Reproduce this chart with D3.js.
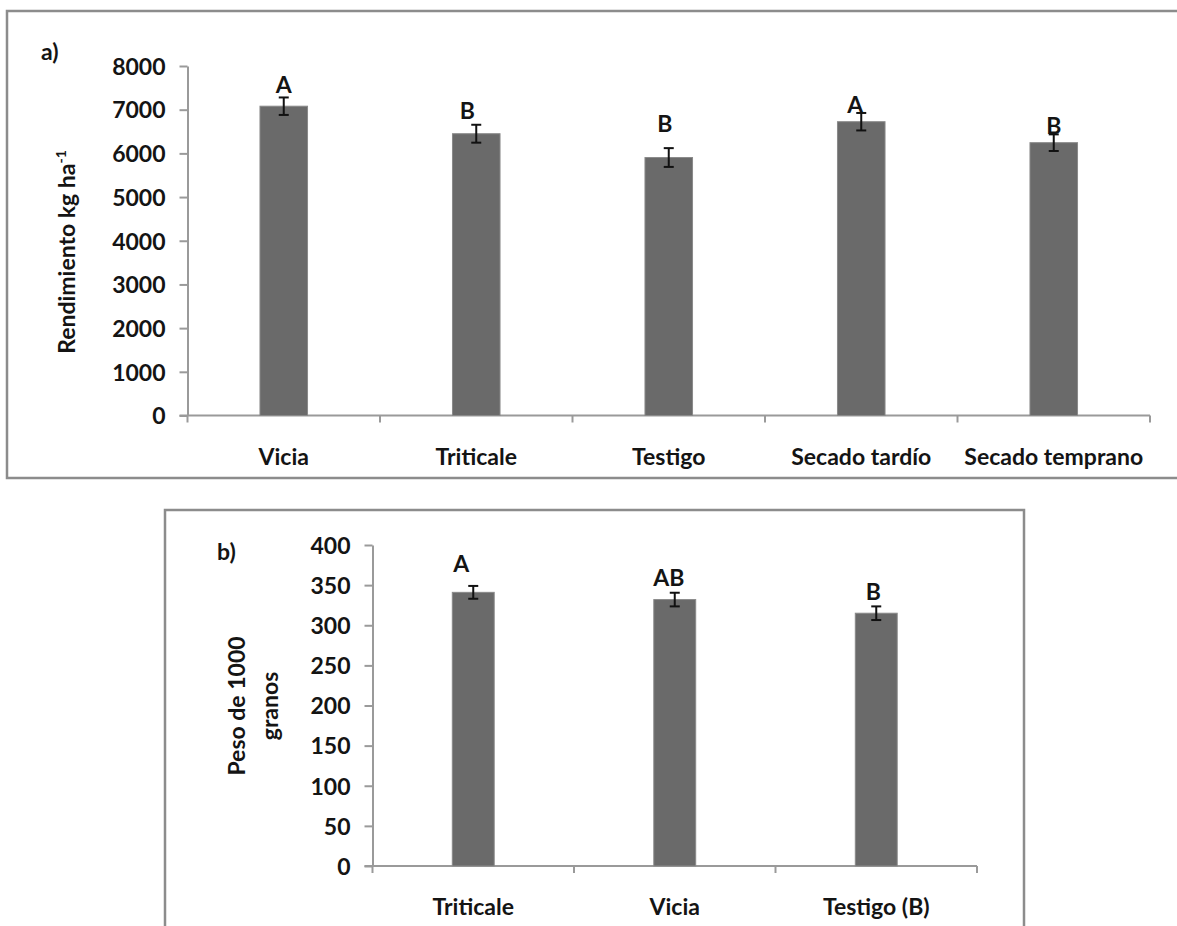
<!DOCTYPE html>
<html>
<head>
<meta charset="utf-8">
<script src="https://cdn.jsdelivr.net/npm/d3@7"></script>
<style>
  html, body { margin: 0; padding: 0; background: #fff; }
  svg { display: block; }
  text { font-family: Lato, "Open Sans", sans-serif; font-weight: 700; fill: #141414; }
</style>
</head>
<body>
<svg id="fig" width="1177" height="926"></svg>
<script>
// Panel a: grain yield by treatment
const treatmentsA = ["Vicia", "Triticale", "Testigo", "Secado tardío", "Secado temprano"];
const yieldA = [7080, 6450, 5905, 6725, 6245];
const yieldErrA = [200, 205, 215, 200, 190];
const lettersA = ["A", "B", "B", "A", "B"];
const yTicksA = [0, 1000, 2000, 3000, 4000, 5000, 6000, 7000, 8000];

// Panel b: thousand-grain weight by treatment
const treatmentsB = ["Triticale", "Vicia", "Testigo (B)"];
const weightB = [341, 332, 315];
const weightErrB = [8, 8.5, 8.5];
const lettersB = ["A", "AB", "B"];
const yTicksB = [0, 50, 100, 150, 200, 250, 300, 350, 400];

const svg = d3.select("#fig");
const AXIS = "#9a9a9a";
const BAR = "#6a6a6a";
const FS = 23;

function panel(cfg) {
  const g = svg.append("g");

  // frame
  g.append("path")
    .attr("d", cfg.frame)
    .attr("fill", "none")
    .attr("stroke", "#8c8c8c")
    .attr("stroke-width", 2.5);

  const x = d3.scaleBand().domain(cfg.cats).range(cfg.xRange).padding(0);
  const y = d3.scaleLinear().domain(cfg.yDomain).range(cfg.yRange);

  // value axis
  const yAxis = g.append("g")
    .attr("transform", `translate(${cfg.xRange[0]},0)`)
    .call(d3.axisLeft(y).tickValues(cfg.ticks).tickFormat(d3.format("d"))
      .tickSize(8).tickSizeOuter(0).tickPadding(14));
  yAxis.select(".domain").attr("stroke", AXIS).attr("stroke-width", 2);
  yAxis.selectAll(".tick line").attr("stroke", AXIS).attr("stroke-width", 2);
  yAxis.selectAll(".tick text")
    .attr("font-size", FS).attr("font-family", "Lato").attr("font-weight", 700)
    .attr("fill", "#141414").attr("dy", "0.36em");

  // category axis: baseline, boundary ticks, labels
  const y0 = y(0);
  g.append("line")
    .attr("x1", cfg.xRange[0] - 8).attr("x2", cfg.xRange[1])
    .attr("y1", y0).attr("y2", y0)
    .attr("stroke", AXIS).attr("stroke-width", 2);
  const bounds = cfg.cats.map(c => x(c)).concat([cfg.xRange[1]]);
  g.selectAll("line.btick").data(bounds).join("line")
    .attr("class", "btick")
    .attr("x1", d => d).attr("x2", d => d)
    .attr("y1", y0).attr("y2", y0 + 7)
    .attr("stroke", AXIS).attr("stroke-width", 2);
  g.selectAll("text.cat").data(cfg.cats).join("text")
    .attr("class", "cat")
    .attr("x", d => x(d) + x.bandwidth() / 2)
    .attr("y", cfg.labelY)
    .attr("text-anchor", "middle")
    .attr("font-size", FS)
    .text(d => d);

  // bars
  const bw = x.bandwidth() * cfg.barFrac;
  const cx = (c) => x(c) + x.bandwidth() / 2;
  g.selectAll("rect.bar").data(cfg.cats).join("rect")
    .attr("class", "bar")
    .attr("x", d => cx(d) - bw / 2)
    .attr("width", bw)
    .attr("y", (d, i) => y(cfg.values[i]))
    .attr("height", (d, i) => y0 - y(cfg.values[i]))
    .attr("fill", BAR)
    .attr("stroke", "#8a8a8a")
    .attr("stroke-width", 1);

  // error bars
  const eb = g.selectAll("g.err").data(cfg.cats).join("g").attr("class", "err");
  eb.append("line")
    .attr("x1", d => cx(d)).attr("x2", d => cx(d))
    .attr("y1", (d, i) => y(cfg.values[i] + cfg.errs[i]))
    .attr("y2", (d, i) => y(cfg.values[i] - cfg.errs[i]));
  eb.append("line")
    .attr("x1", d => cx(d) - 5).attr("x2", d => cx(d) + 5)
    .attr("y1", (d, i) => y(cfg.values[i] + cfg.errs[i]))
    .attr("y2", (d, i) => y(cfg.values[i] + cfg.errs[i]));
  eb.append("line")
    .attr("x1", d => cx(d) - 5).attr("x2", d => cx(d) + 5)
    .attr("y1", (d, i) => y(cfg.values[i] - cfg.errs[i]))
    .attr("y2", (d, i) => y(cfg.values[i] - cfg.errs[i]));
  eb.selectAll("line").attr("stroke", "#111").attr("stroke-width", 2);

  // significance letters above each error bar
  g.selectAll("text.sig").data(cfg.cats).join("text")
    .attr("class", "sig")
    .attr("x", (d, i) => cx(d) + cfg.letterDx[i])
    .attr("y", (d, i) => y(cfg.values[i] + cfg.errs[i]) - cfg.letterLift[i] + 8)
    .attr("text-anchor", "middle")
    .attr("font-size", FS)
    .text((d, i) => cfg.letters[i]);

  // panel tag
  g.append("text")
    .attr("x", cfg.tag[0]).attr("y", cfg.tag[1])
    .attr("font-size", FS)
    .text(cfg.tagText);

  return g;
}

// ---- panel a ----
const ga = panel({
  frame: "M1177,11 H7 V478 H1177",
  cats: treatmentsA, values: yieldA, errs: yieldErrA, letters: lettersA,
  ticks: yTicksA, yDomain: [0, 8000], yRange: [415.5, 66],
  xRange: [187.5, 1150], barFrac: 0.247, labelY: 465,
  letterDx: [0, -9, -4, -6, 0], letterLift: [12, 14, 24, 8, 8],
  tag: [41, 60], tagText: "a)"
});
const titleA = ga.append("text")
  .attr("transform", "translate(75,252) rotate(-90)")
  .attr("text-anchor", "middle")
  .attr("font-size", FS);
titleA.append("tspan").text("Rendimiento kg ha");
titleA.append("tspan").attr("font-size", 14).attr("dy", -9).text("-1");

// ---- panel b ----
const gb = panel({
  frame: "M165,926 V510 H1024 V926",
  cats: treatmentsB, values: weightB, errs: weightErrB, letters: lettersB,
  ticks: yTicksB, yDomain: [0, 400], yRange: [866, 545],
  xRange: [372.5, 977], barFrac: 0.208, labelY: 915,
  letterDx: [-12, -6, -3], letterLift: [22, 15, 14],
  tag: [217, 560], tagText: "b)"
});
const titleB = gb.append("text")
  .attr("transform", "translate(245,706) rotate(-90)")
  .attr("text-anchor", "middle")
  .attr("font-size", FS);
titleB.append("tspan").attr("x", 0).attr("dy", 0).text("Peso de 1000");
titleB.append("tspan").attr("x", 0).attr("dy", 33).text("granos");
</script>
</body>
</html>
